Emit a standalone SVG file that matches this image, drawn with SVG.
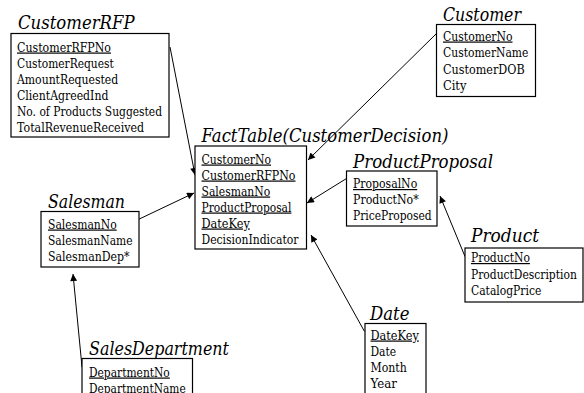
<svg xmlns="http://www.w3.org/2000/svg" width="584" height="393" viewBox="0 0 584 393">
  <style>
    .title { font-family: "DejaVu Serif", serif; font-style: italic; font-size: 18.5px; fill: #000; }
    .attr { font-family: "DejaVu Serif", serif; font-size: 12px; fill: #000; }
    .key { text-decoration: underline; }
    .box { fill: #fff; stroke: #000; stroke-width: 1.2; }
    .link { stroke: #000; stroke-width: 1; fill: none; marker-end: url(#arrow); }
  </style>
  <defs>
    <marker id="arrow" viewBox="0 0 10 10" refX="10" refY="5" markerWidth="9" markerHeight="7" markerUnits="userSpaceOnUse" orient="auto">
      <path d="M0,0 L10,5 L0,10 Z" fill="#000"/>
    </marker>
  </defs>
  <rect width="584" height="393" fill="#fff"/>

  <!-- relationships: each dimension points at the table that references it -->
  <g id="connectors">
    <line class="link" x1="170" y1="47" x2="195" y2="175"/>
    <line class="link" x1="436.5" y1="33.5" x2="308" y2="160"/>
    <line class="link" x1="133" y1="222" x2="194" y2="193"/>
    <line class="link" x1="346.5" y1="178.5" x2="307" y2="203"/>
    <line class="link" x1="364.5" y1="331.5" x2="311" y2="235"/>
    <line class="link" x1="465" y1="256.5" x2="440" y2="196"/>
    <line class="link" x1="82" y1="367" x2="73" y2="274"/>
  </g>

  <g id="CustomerRFP">
    <text class="title" x="18" y="29" textLength="116.5" lengthAdjust="spacingAndGlyphs">CustomerRFP</text>
    <rect class="box" x="11" y="33.5" width="158" height="103.5"/>
    <text class="attr key" x="17" y="51.5" textLength="94" lengthAdjust="spacingAndGlyphs">CustomerRFPNo</text>
    <text class="attr" x="17" y="67.5" textLength="96.7" lengthAdjust="spacingAndGlyphs">CustomerRequest</text>
    <text class="attr" x="17" y="83.5" textLength="101.2" lengthAdjust="spacingAndGlyphs">AmountRequested</text>
    <text class="attr" x="17" y="99.5" textLength="91.4" lengthAdjust="spacingAndGlyphs">ClientAgreedInd</text>
    <text class="attr" x="17" y="115.5" textLength="145" lengthAdjust="spacingAndGlyphs">No. of Products Suggested</text>
    <text class="attr" x="17" y="131.5" textLength="127" lengthAdjust="spacingAndGlyphs">TotalRevenueReceived</text>
  </g>

  <g id="Customer">
    <text class="title" x="443" y="21" textLength="78" lengthAdjust="spacingAndGlyphs">Customer</text>
    <rect class="box" x="436.5" y="24.5" width="99" height="72"/>
    <text class="attr key" x="443" y="40.5" textLength="69.5" lengthAdjust="spacingAndGlyphs">CustomerNo</text>
    <text class="attr" x="443" y="57" textLength="85.4" lengthAdjust="spacingAndGlyphs">CustomerName</text>
    <text class="attr" x="443" y="73.5" textLength="81.6" lengthAdjust="spacingAndGlyphs">CustomerDOB</text>
    <text class="attr" x="443" y="90" textLength="23.4" lengthAdjust="spacingAndGlyphs">City</text>
  </g>

  <g id="FactTable">
    <text class="title" x="201.5" y="141.5" textLength="247" lengthAdjust="spacingAndGlyphs">FactTable(CustomerDecision)</text>
    <rect class="box" x="195" y="146" width="111.5" height="103"/>
    <text class="attr key" x="201.5" y="163.5" textLength="69.5" lengthAdjust="spacingAndGlyphs">CustomerNo</text>
    <text class="attr key" x="201.5" y="179.5" textLength="94" lengthAdjust="spacingAndGlyphs">CustomerRFPNo</text>
    <text class="attr key" x="201.5" y="195.5" textLength="68.7" lengthAdjust="spacingAndGlyphs">SalesmanNo</text>
    <text class="attr key" x="201.5" y="211.5" textLength="89.9" lengthAdjust="spacingAndGlyphs">ProductProposal</text>
    <text class="attr key" x="201.5" y="227.5" textLength="48.3" lengthAdjust="spacingAndGlyphs">DateKey</text>
    <text class="attr" x="201.5" y="243.5" textLength="97" lengthAdjust="spacingAndGlyphs">DecisionIndicator</text>
  </g>

  <g id="Salesman">
    <text class="title" x="48" y="208" textLength="77" lengthAdjust="spacingAndGlyphs">Salesman</text>
    <rect class="box" x="41" y="211.5" width="98" height="55.5"/>
    <text class="attr key" x="48" y="228.5" textLength="68.7" lengthAdjust="spacingAndGlyphs">SalesmanNo</text>
    <text class="attr" x="48" y="244.5" textLength="84.6" lengthAdjust="spacingAndGlyphs">SalesmanName</text>
    <text class="attr" x="48" y="260.5" textLength="81.6" lengthAdjust="spacingAndGlyphs">SalesmanDep*</text>
  </g>

  <g id="ProductProposal">
    <text class="title" x="353" y="168" textLength="140" lengthAdjust="spacingAndGlyphs">ProductProposal</text>
    <rect class="box" x="346.5" y="171" width="90.5" height="55"/>
    <text class="attr key" x="353" y="188" textLength="64.2" lengthAdjust="spacingAndGlyphs">ProposalNo</text>
    <text class="attr" x="353" y="204" textLength="65.7" lengthAdjust="spacingAndGlyphs">ProductNo*</text>
    <text class="attr" x="353" y="220" textLength="78.6" lengthAdjust="spacingAndGlyphs">PriceProposed</text>
  </g>

  <g id="Product">
    <text class="title" x="471" y="241.5" textLength="68" lengthAdjust="spacingAndGlyphs">Product</text>
    <rect class="box" x="465" y="248" width="118" height="54"/>
    <text class="attr key" x="471" y="262" textLength="58.9" lengthAdjust="spacingAndGlyphs">ProductNo</text>
    <text class="attr" x="471" y="278.5" textLength="105.8" lengthAdjust="spacingAndGlyphs">ProductDescription</text>
    <text class="attr" x="471" y="295" textLength="70.3" lengthAdjust="spacingAndGlyphs">CatalogPrice</text>
  </g>

  <g id="Date">
    <text class="title" x="370" y="320" textLength="39.5" lengthAdjust="spacingAndGlyphs">Date</text>
    <rect class="box" x="365" y="323.5" width="61" height="80"/>
    <text class="attr key" x="370.5" y="339.5" textLength="48.3" lengthAdjust="spacingAndGlyphs">DateKey</text>
    <text class="attr" x="370.5" y="355.5" textLength="25.7" lengthAdjust="spacingAndGlyphs">Date</text>
    <text class="attr" x="370.5" y="371.5" textLength="36.3" lengthAdjust="spacingAndGlyphs">Month</text>
    <text class="attr" x="370.5" y="387.5" textLength="26.4" lengthAdjust="spacingAndGlyphs">Year</text>
  </g>

  <g id="SalesDepartment">
    <text class="title" x="89" y="355" textLength="140" lengthAdjust="spacingAndGlyphs">SalesDepartment</text>
    <rect class="box" x="82" y="358.5" width="110.5" height="45"/>
    <text class="attr key" x="89" y="376.5" textLength="80.8" lengthAdjust="spacingAndGlyphs">DepartmentNo</text>
    <text class="attr" x="89" y="392.5" textLength="96.7" lengthAdjust="spacingAndGlyphs">DepartmentName</text>
  </g>
</svg>
